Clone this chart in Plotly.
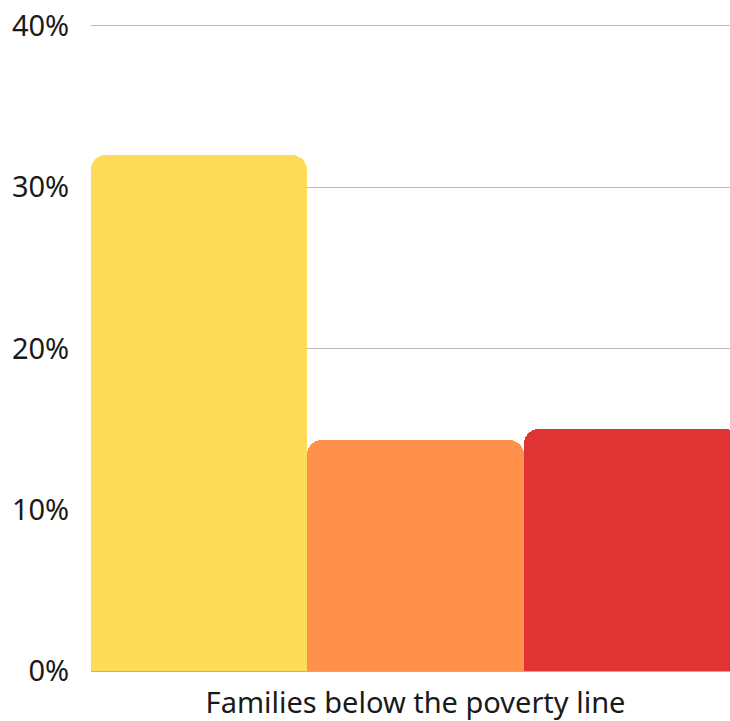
import plotly.graph_objects as go

CATEGORY = "Families below the poverty line"
SERIES = ["Group A", "Group B", "Group C"]
VALUES = [32.0, 14.3, 15.0]
COLORS = ["#FEDC5A", "#FF914D", "#E03434"]
Y_TICKS = [0, 10, 20, 30, 40]
Y_TICK_LABELS = ["0%", "10%", "20%", "30%", "40%"]

FONT = "Noto Sans"


def main():
    fig = go.Figure()
    for name, value, color in zip(SERIES, VALUES, COLORS):
        fig.add_trace(
            go.Bar(
                x=[CATEGORY],
                y=[value],
                name=name,
                marker=dict(color=color, line=dict(width=0)),
            )
        )

    fig.update_layout(
        width=730,
        height=721,
        margin=dict(l=91, r=0, t=21, b=48),
        barmode="group",
        bargap=0,
        bargroupgap=0,
        barcornerradius=15,
        showlegend=False,
        plot_bgcolor="white",
        paper_bgcolor="white",
        font=dict(family=FONT, size=29, color="#1a1a1a"),
    )
    # last bar runs off the right edge in the original
    fig.update_xaxes(
        range=[-0.5, 0.4846],
        showgrid=False,
        showline=True,
        linecolor="#b0b0b0",
        linewidth=1,
        ticks="outside",
        ticklen=6,
        tickcolor="rgba(0,0,0,0)",
        tickfont=dict(size=29),
    )
    fig.update_yaxes(
        range=[0, 40.3],
        tickvals=Y_TICKS,
        ticktext=Y_TICK_LABELS,
        showgrid=True,
        gridcolor="#bababa",
        gridwidth=1,
        zeroline=False,
        ticks="outside",
        ticklen=15,
        tickcolor="rgba(0,0,0,0)",
        tickfont=dict(size=29),
    )

    # drop the default page margin so the figure sits flush in the window
    fig.write_html(
        "out.html",
        config={"displayModeBar": False},
        post_script="document.body.style.margin='0';"
        "document.documentElement.style.overflow='hidden';",
    )


if __name__ == "__main__":
    main()
